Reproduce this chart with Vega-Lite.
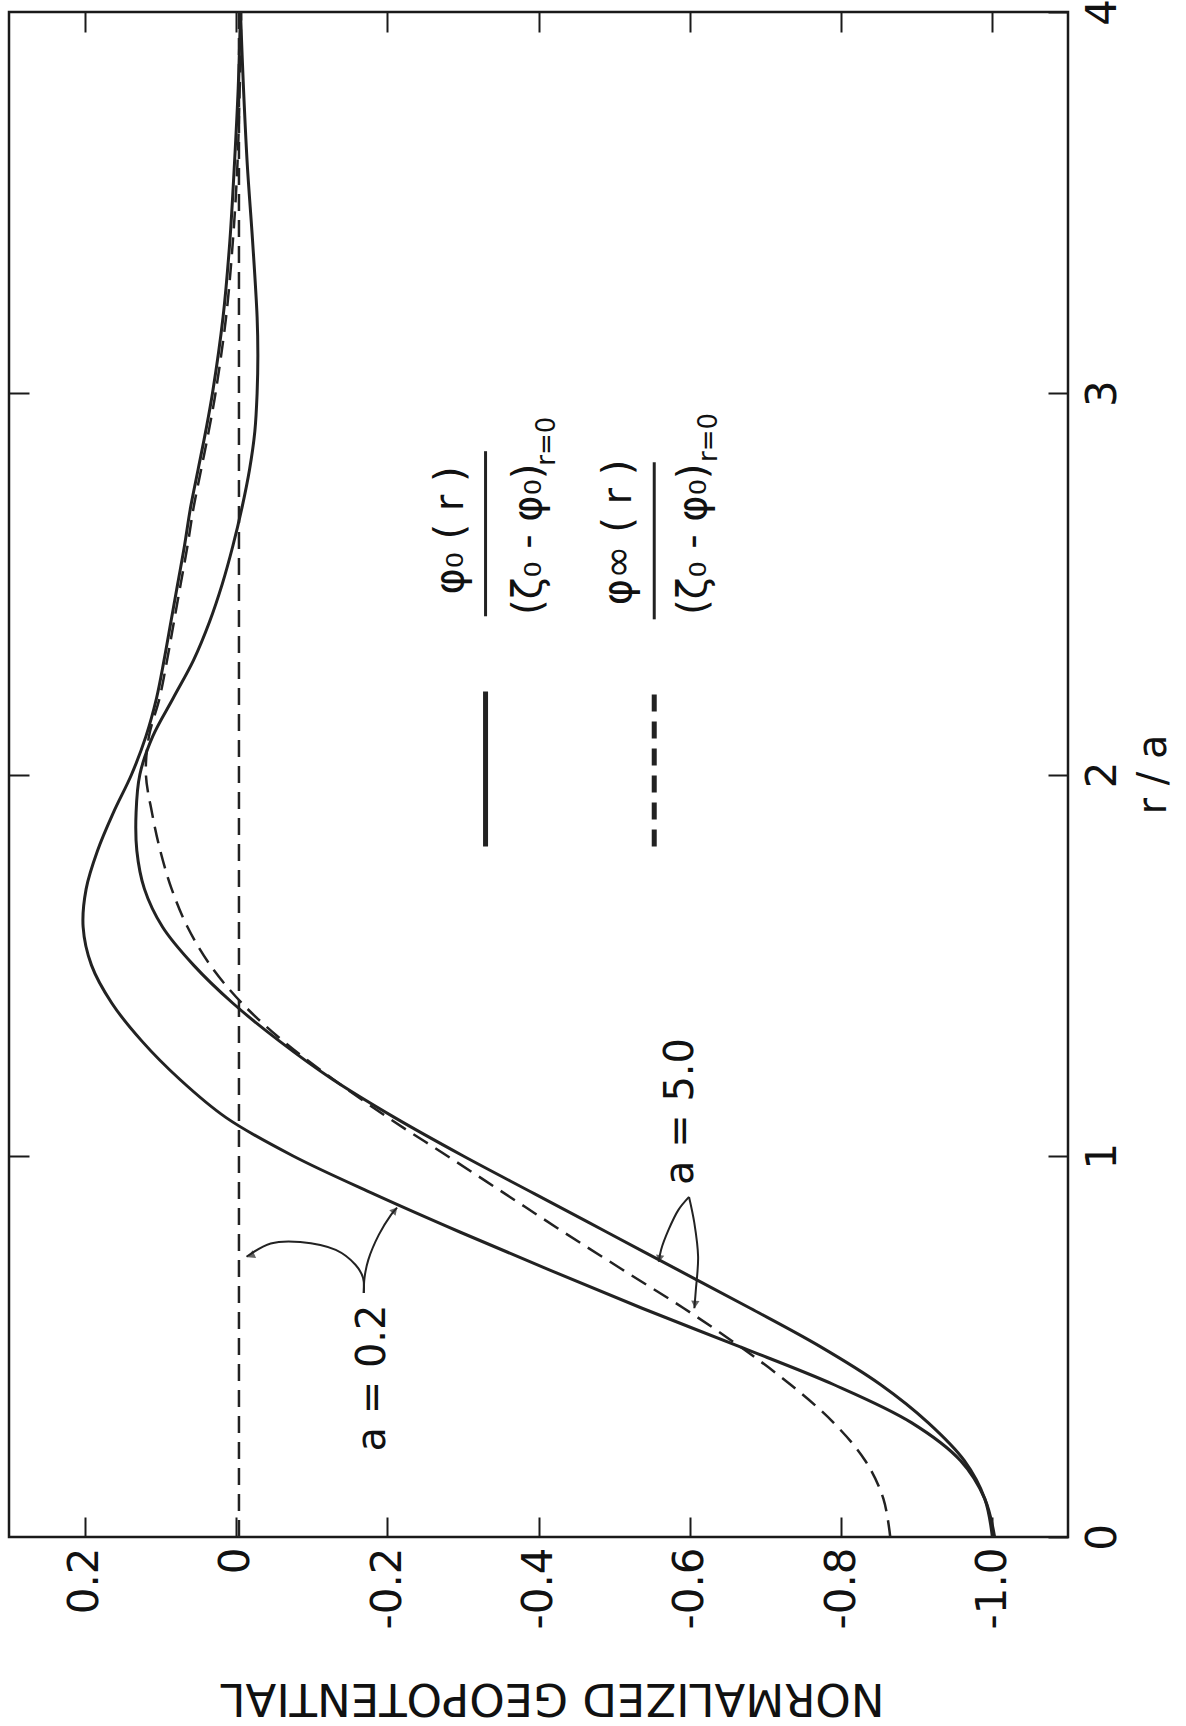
{
  "$schema": "https://vega.github.io/schema/vega-lite/v6.json",
  "width": 1059,
  "height": 1525,
  "autosize": {"type": "none"},
  "padding": {"left": 9, "top": 12, "right": 118, "bottom": 189},
  "background": "white",
  "config": {
    "view": {"stroke": "#1a1a1a", "strokeWidth": 2.5},
    "font": "DejaVu Sans",
    "axis": {
      "labelFont": "DejaVu Sans",
      "labelFontSize": 42,
      "labelColor": "#111",
      "tickColor": "#1a1a1a",
      "tickWidth": 2,
      "domain": false,
      "grid": false,
      "titleFont": "DejaVu Sans",
      "titleFontWeight": "normal",
      "titleColor": "#111",
      "labelFlush": false,
      "labelOverlap": false
    }
  },
  "resolve": {"axis": {"x": "independent", "y": "independent"}},
  "datasets": {
    "curves": [
      {"s": "A", "style": "solid", "r": 0, "v": -1.003},
      {"s": "A", "style": "solid", "r": 0.1, "v": -0.99},
      {"s": "A", "style": "solid", "r": 0.2, "v": -0.958},
      {"s": "A", "style": "solid", "r": 0.3, "v": -0.893},
      {"s": "A", "style": "solid", "r": 0.4, "v": -0.79},
      {"s": "A", "style": "solid", "r": 0.5, "v": -0.665},
      {"s": "A", "style": "solid", "r": 0.6, "v": -0.537},
      {"s": "A", "style": "solid", "r": 0.7, "v": -0.415},
      {"s": "A", "style": "solid", "r": 0.8, "v": -0.296},
      {"s": "A", "style": "solid", "r": 0.9, "v": -0.182},
      {"s": "A", "style": "solid", "r": 1.0, "v": -0.075},
      {"s": "A", "style": "solid", "r": 1.1, "v": 0.013},
      {"s": "A", "style": "solid", "r": 1.2, "v": 0.074},
      {"s": "A", "style": "solid", "r": 1.3, "v": 0.124},
      {"s": "A", "style": "solid", "r": 1.4, "v": 0.164},
      {"s": "A", "style": "solid", "r": 1.5, "v": 0.191},
      {"s": "A", "style": "solid", "r": 1.6, "v": 0.202},
      {"s": "A", "style": "solid", "r": 1.7, "v": 0.198},
      {"s": "A", "style": "solid", "r": 1.8, "v": 0.183},
      {"s": "A", "style": "solid", "r": 1.9, "v": 0.162},
      {"s": "A", "style": "solid", "r": 2.0, "v": 0.138},
      {"s": "A", "style": "solid", "r": 2.1, "v": 0.119},
      {"s": "A", "style": "solid", "r": 2.2, "v": 0.105},
      {"s": "A", "style": "solid", "r": 2.3, "v": 0.095},
      {"s": "A", "style": "solid", "r": 2.4, "v": 0.086},
      {"s": "A", "style": "solid", "r": 2.5, "v": 0.077},
      {"s": "A", "style": "solid", "r": 2.6, "v": 0.068},
      {"s": "A", "style": "solid", "r": 2.7, "v": 0.06},
      {"s": "A", "style": "solid", "r": 2.8, "v": 0.05},
      {"s": "A", "style": "solid", "r": 2.9, "v": 0.04},
      {"s": "A", "style": "solid", "r": 3.0, "v": 0.031},
      {"s": "A", "style": "solid", "r": 3.2, "v": 0.017},
      {"s": "A", "style": "solid", "r": 3.4, "v": 0.008},
      {"s": "A", "style": "solid", "r": 3.6, "v": 0.002},
      {"s": "A", "style": "solid", "r": 3.8, "v": -0.003},
      {"s": "A", "style": "solid", "r": 4.0, "v": -0.006},
      {"s": "B", "style": "solid", "r": 0, "v": -1.0},
      {"s": "B", "style": "solid", "r": 0.1, "v": -0.99},
      {"s": "B", "style": "solid", "r": 0.2, "v": -0.963},
      {"s": "B", "style": "solid", "r": 0.3, "v": -0.915},
      {"s": "B", "style": "solid", "r": 0.4, "v": -0.852},
      {"s": "B", "style": "solid", "r": 0.5, "v": -0.772},
      {"s": "B", "style": "solid", "r": 0.6, "v": -0.68},
      {"s": "B", "style": "solid", "r": 0.7, "v": -0.585},
      {"s": "B", "style": "solid", "r": 0.8, "v": -0.49},
      {"s": "B", "style": "solid", "r": 0.9, "v": -0.395},
      {"s": "B", "style": "solid", "r": 1.0, "v": -0.3},
      {"s": "B", "style": "solid", "r": 1.1, "v": -0.21},
      {"s": "B", "style": "solid", "r": 1.2, "v": -0.128},
      {"s": "B", "style": "solid", "r": 1.3, "v": -0.058},
      {"s": "B", "style": "solid", "r": 1.4, "v": 0.004},
      {"s": "B", "style": "solid", "r": 1.5, "v": 0.056},
      {"s": "B", "style": "solid", "r": 1.6, "v": 0.097},
      {"s": "B", "style": "solid", "r": 1.7, "v": 0.121},
      {"s": "B", "style": "solid", "r": 1.8, "v": 0.131},
      {"s": "B", "style": "solid", "r": 1.9, "v": 0.132},
      {"s": "B", "style": "solid", "r": 2.0, "v": 0.127},
      {"s": "B", "style": "solid", "r": 2.1, "v": 0.11},
      {"s": "B", "style": "solid", "r": 2.2, "v": 0.083},
      {"s": "B", "style": "solid", "r": 2.3, "v": 0.056},
      {"s": "B", "style": "solid", "r": 2.4, "v": 0.035},
      {"s": "B", "style": "solid", "r": 2.5, "v": 0.018},
      {"s": "B", "style": "solid", "r": 2.6, "v": 0.004},
      {"s": "B", "style": "solid", "r": 2.7, "v": -0.008},
      {"s": "B", "style": "solid", "r": 2.8, "v": -0.018},
      {"s": "B", "style": "solid", "r": 2.9, "v": -0.025},
      {"s": "B", "style": "solid", "r": 3.0, "v": -0.028},
      {"s": "B", "style": "solid", "r": 3.1, "v": -0.029},
      {"s": "B", "style": "solid", "r": 3.2, "v": -0.028},
      {"s": "B", "style": "solid", "r": 3.4, "v": -0.022},
      {"s": "B", "style": "solid", "r": 3.6, "v": -0.015},
      {"s": "B", "style": "solid", "r": 3.8, "v": -0.01},
      {"s": "B", "style": "solid", "r": 4.0, "v": -0.006},
      {"s": "C", "style": "dashed", "r": 0, "v": -0.865},
      {"s": "C", "style": "dashed", "r": 0.1, "v": -0.856},
      {"s": "C", "style": "dashed", "r": 0.2, "v": -0.832},
      {"s": "C", "style": "dashed", "r": 0.3, "v": -0.79},
      {"s": "C", "style": "dashed", "r": 0.4, "v": -0.733},
      {"s": "C", "style": "dashed", "r": 0.5, "v": -0.666},
      {"s": "C", "style": "dashed", "r": 0.6, "v": -0.592},
      {"s": "C", "style": "dashed", "r": 0.7, "v": -0.512},
      {"s": "C", "style": "dashed", "r": 0.8, "v": -0.433},
      {"s": "C", "style": "dashed", "r": 0.9, "v": -0.356},
      {"s": "C", "style": "dashed", "r": 1.0, "v": -0.279},
      {"s": "C", "style": "dashed", "r": 1.1, "v": -0.201},
      {"s": "C", "style": "dashed", "r": 1.2, "v": -0.129},
      {"s": "C", "style": "dashed", "r": 1.3, "v": -0.063},
      {"s": "C", "style": "dashed", "r": 1.4, "v": -0.008},
      {"s": "C", "style": "dashed", "r": 1.5, "v": 0.034},
      {"s": "C", "style": "dashed", "r": 1.6, "v": 0.064},
      {"s": "C", "style": "dashed", "r": 1.7, "v": 0.085},
      {"s": "C", "style": "dashed", "r": 1.8, "v": 0.1},
      {"s": "C", "style": "dashed", "r": 1.9, "v": 0.111},
      {"s": "C", "style": "dashed", "r": 2.0, "v": 0.119},
      {"s": "C", "style": "dashed", "r": 2.1, "v": 0.115},
      {"s": "C", "style": "dashed", "r": 2.2, "v": 0.101},
      {"s": "C", "style": "dashed", "r": 2.3, "v": 0.091},
      {"s": "C", "style": "dashed", "r": 2.4, "v": 0.082},
      {"s": "C", "style": "dashed", "r": 2.5, "v": 0.073},
      {"s": "C", "style": "dashed", "r": 2.6, "v": 0.064},
      {"s": "C", "style": "dashed", "r": 2.7, "v": 0.056},
      {"s": "C", "style": "dashed", "r": 2.8, "v": 0.046},
      {"s": "C", "style": "dashed", "r": 2.9, "v": 0.036},
      {"s": "C", "style": "dashed", "r": 3.0, "v": 0.027},
      {"s": "C", "style": "dashed", "r": 3.2, "v": 0.013},
      {"s": "C", "style": "dashed", "r": 3.4, "v": 0.004},
      {"s": "C", "style": "dashed", "r": 3.6, "v": -0.002},
      {"s": "C", "style": "dashed", "r": 3.8, "v": -0.005},
      {"s": "C", "style": "dashed", "r": 4.0, "v": -0.007},
      {"s": "D", "style": "dashed", "r": 0, "v": -0.004},
      {"s": "D", "style": "dashed", "r": 4.0, "v": -0.004}
    ],
    "arrows": [
      {"s": "L02", "i": 0, "v": -0.169, "r": 0.64},
      {"s": "L02", "i": 1, "v": -0.168, "r": 0.68},
      {"s": "L02", "i": 2, "v": -0.158, "r": 0.714},
      {"s": "L02", "i": 3, "v": -0.132, "r": 0.753},
      {"s": "L02", "i": 4, "v": -0.085, "r": 0.774},
      {"s": "L02", "i": 5, "v": -0.046, "r": 0.77},
      {"s": "L02", "i": 6, "v": -0.014, "r": 0.735},
      {"s": "R02", "i": 0, "v": -0.169, "r": 0.64},
      {"s": "R02", "i": 1, "v": -0.17, "r": 0.68},
      {"s": "R02", "i": 2, "v": -0.175, "r": 0.727},
      {"s": "R02", "i": 3, "v": -0.189, "r": 0.793},
      {"s": "R02", "i": 4, "v": -0.205, "r": 0.845},
      {"s": "R02", "i": 5, "v": -0.213, "r": 0.864},
      {"s": "L5", "i": 0, "v": -0.599, "r": 0.892},
      {"s": "L5", "i": 1, "v": -0.585, "r": 0.858},
      {"s": "L5", "i": 2, "v": -0.572, "r": 0.806},
      {"s": "L5", "i": 3, "v": -0.562, "r": 0.753},
      {"s": "L5", "i": 4, "v": -0.559, "r": 0.722},
      {"s": "R5", "i": 0, "v": -0.599, "r": 0.892},
      {"s": "R5", "i": 1, "v": -0.606, "r": 0.824},
      {"s": "R5", "i": 2, "v": -0.611, "r": 0.735},
      {"s": "R5", "i": 3, "v": -0.608, "r": 0.648},
      {"s": "R5", "i": 4, "v": -0.606, "r": 0.6}
    ],
    "heads": [
      {"h": "L02", "v": -0.02, "r": 0.738},
      {"h": "R02", "v": -0.21, "r": 0.857},
      {"h": "L5", "v": -0.56, "r": 0.73},
      {"h": "R5", "v": -0.607, "r": 0.61}
    ],
    "texts": [
      {"t": "a = 0.2", "g": "big", "v": -0.181, "r": 0.417},
      {"t": "a = 5.0", "g": "big", "v": -0.589, "r": 1.116},
      {"t": "φ₀ ( r )", "g": "big", "v": -0.284, "r": 2.64},
      {"t": "(ζ₀ - φ₀)", "g": "big", "v": -0.388, "r": 2.617},
      {"t": "φ∞ ( r )", "g": "big", "v": -0.507, "r": 2.635},
      {"t": "(ζ₀ - φ₀)", "g": "big", "v": -0.606, "r": 2.617},
      {"t": "r=0", "g": "small", "v": -0.411, "r": 2.874},
      {"t": "r=0", "g": "small", "v": -0.626, "r": 2.884}
    ],
    "rules": [
      {"k": "bar", "v": -0.330, "r1": 2.415, "r2": 2.848},
      {"k": "bar", "v": -0.553, "r1": 2.407, "r2": 2.819},
      {"k": "solid", "v": -0.330, "r1": 1.811, "r2": 2.218},
      {"k": "dashed", "v": -0.553, "r1": 1.811, "r2": 2.218}
    ]
  },
  "layer": [
    {
      "data": {"name": "curves"},
      "transform": [{"filter": "datum.style == 'solid'"}],
      "mark": {"type": "line", "stroke": "#222", "strokeWidth": 3, "interpolate": "catmull-rom"},
      "encoding": {
        "x": {
          "field": "v", "type": "quantitative",
          "scale": {"domain": [-1.1, 0.3], "reverse": true, "nice": false, "zero": false},
          "axis": {
            "orient": "bottom",
            "values": [0.2, 0, -0.2, -0.4, -0.6, -0.8, -1.0],
            "labelExpr": "datum.value == 0 ? '0' : (datum.value < 0 ? '-' + format(-datum.value, '.1f') : format(datum.value, '.1f'))",
            "labelAngle": 270,
            "labelAlign": "right",
            "labelBaseline": "middle",
            "labelPadding": 30,
            "tickSize": -20,
            "title": "NORMALIZED GEOPOTENTIAL",
            "titleFontSize": 45,
            "titleAngle": 180,
            "titleX": 543,
            "titleY": 160,
            "titleAlign": "center",
            "titleBaseline": "middle"
          }
        },
        "y": {
          "field": "r", "type": "quantitative",
          "scale": {"domain": [0, 4], "nice": false, "zero": false},
          "axis": {
            "orient": "right",
            "values": [0, 1, 2, 3, 4],
            "format": "d",
            "labelAngle": 270,
            "labelAlign": "center",
            "labelBaseline": "top",
            "labelPadding": 34,
            "tickSize": -20,
            "title": "r / a",
            "titleFontSize": 40,
            "titleAngle": 270,
            "titleX": 85,
            "titleY": 762,
            "titleAlign": "center",
            "titleBaseline": "middle"
          }
        },
        "detail": {"field": "s"},
        "order": {"field": "r", "type": "quantitative"}
      }
    },
    {
      "data": {"name": "curves"},
      "transform": [{"filter": "datum.style == 'dashed'"}],
      "mark": {"type": "line", "stroke": "#222", "strokeWidth": 2.5, "strokeDash": [17, 9], "interpolate": "catmull-rom"},
      "encoding": {
        "x": {"field": "v", "type": "quantitative", "axis": {"orient": "top", "values": [0.2, 0, -0.2, -0.4, -0.6, -0.8, -1.0], "labels": false, "tickSize": -20, "title": null}},
        "y": {"field": "r", "type": "quantitative", "axis": {"orient": "left", "values": [1, 2, 3], "labels": false, "tickSize": -20, "title": null}},
        "detail": {"field": "s"},
        "order": {"field": "r", "type": "quantitative"}
      }
    },
    {
      "data": {"name": "arrows"},
      "mark": {"type": "line", "stroke": "#222", "strokeWidth": 2, "interpolate": "catmull-rom"},
      "encoding": {
        "x": {"field": "v", "type": "quantitative", "axis": null},
        "y": {"field": "r", "type": "quantitative", "axis": null},
        "detail": {"field": "s"},
        "order": {"field": "i", "type": "quantitative"}
      }
    },
    {
      "data": {"name": "heads"},
      "transform": [{"filter": "datum.h == 'L02'"}],
      "mark": {"type": "point", "shape": "triangle-up", "filled": true, "fill": "#222", "size": 70, "angle": 245},
      "encoding": {
        "x": {"field": "v", "type": "quantitative", "axis": null},
        "y": {"field": "r", "type": "quantitative", "axis": null}
      }
    },
    {
      "data": {"name": "heads"},
      "transform": [{"filter": "datum.h == 'R02'"}],
      "mark": {"type": "point", "shape": "triangle-up", "filled": true, "fill": "#222", "size": 70, "angle": 41},
      "encoding": {
        "x": {"field": "v", "type": "quantitative", "axis": null},
        "y": {"field": "r", "type": "quantitative", "axis": null}
      }
    },
    {
      "data": {"name": "heads"},
      "transform": [{"filter": "datum.h == 'L5'"}],
      "mark": {"type": "point", "shape": "triangle-up", "filled": true, "fill": "#222", "size": 70, "angle": 190},
      "encoding": {
        "x": {"field": "v", "type": "quantitative", "axis": null},
        "y": {"field": "r", "type": "quantitative", "axis": null}
      }
    },
    {
      "data": {"name": "heads"},
      "transform": [{"filter": "datum.h == 'R5'"}],
      "mark": {"type": "point", "shape": "triangle-up", "filled": true, "fill": "#222", "size": 70, "angle": 184},
      "encoding": {
        "x": {"field": "v", "type": "quantitative", "axis": null},
        "y": {"field": "r", "type": "quantitative", "axis": null}
      }
    },
    {
      "data": {"name": "rules"},
      "transform": [{"filter": "datum.k == 'bar'"}],
      "mark": {"type": "rule", "stroke": "#222", "strokeWidth": 3},
      "encoding": {
        "x": {"field": "v", "type": "quantitative", "axis": null},
        "y": {"field": "r1", "type": "quantitative", "axis": null},
        "y2": {"field": "r2"}
      }
    },
    {
      "data": {"name": "rules"},
      "transform": [{"filter": "datum.k == 'solid'"}],
      "mark": {"type": "rule", "stroke": "#222", "strokeWidth": 5},
      "encoding": {
        "x": {"field": "v", "type": "quantitative", "axis": null},
        "y": {"field": "r1", "type": "quantitative", "axis": null},
        "y2": {"field": "r2"}
      }
    },
    {
      "data": {"name": "rules"},
      "transform": [{"filter": "datum.k == 'dashed'"}],
      "mark": {"type": "rule", "stroke": "#222", "strokeWidth": 5, "strokeDash": [17, 10]},
      "encoding": {
        "x": {"field": "v", "type": "quantitative", "axis": null},
        "y": {"field": "r1", "type": "quantitative", "axis": null},
        "y2": {"field": "r2"}
      }
    },
    {
      "data": {"name": "texts"},
      "transform": [{"filter": "datum.g == 'big'"}],
      "mark": {"type": "text", "angle": 270, "align": "center", "baseline": "middle", "fontSize": 40, "font": "DejaVu Sans", "fill": "#111"},
      "encoding": {
        "x": {"field": "v", "type": "quantitative", "axis": null},
        "y": {"field": "r", "type": "quantitative", "axis": null},
        "text": {"field": "t"}
      }
    },
    {
      "data": {"name": "texts"},
      "transform": [{"filter": "datum.g == 'small'"}],
      "mark": {"type": "text", "angle": 270, "align": "center", "baseline": "middle", "fontSize": 26, "font": "DejaVu Sans", "fill": "#111"},
      "encoding": {
        "x": {"field": "v", "type": "quantitative", "axis": null},
        "y": {"field": "r", "type": "quantitative", "axis": null},
        "text": {"field": "t"}
      }
    }
  ]
}
